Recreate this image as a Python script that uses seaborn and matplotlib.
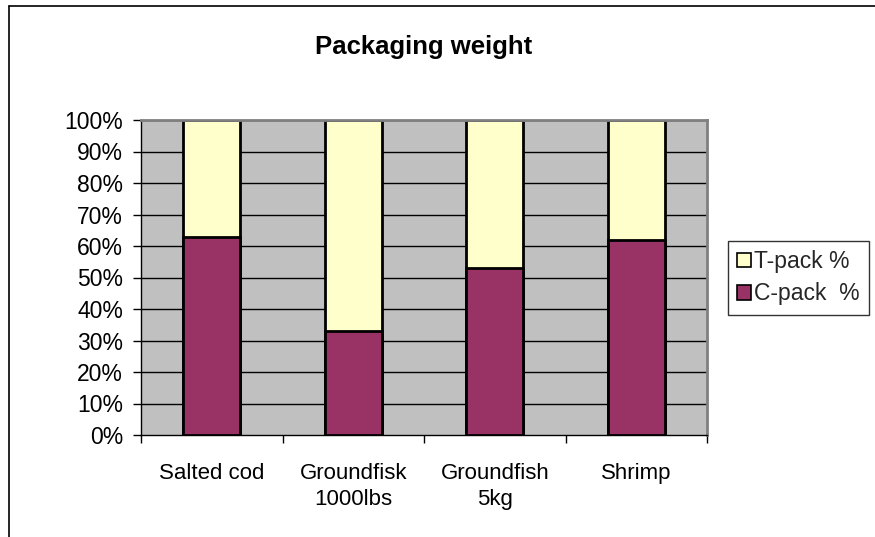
import matplotlib
matplotlib.use("Agg")
import matplotlib.pyplot as plt
from matplotlib.patches import Patch
from matplotlib.lines import Line2D
from matplotlib.ticker import FixedLocator, FuncFormatter
import seaborn as sns
import pandas as pd

# Share of packaging weight per product (percent)
products = ["Salted cod", "Groundfisk\n1000lbs", "Groundfish\n5kg", "Shrimp"]
c_pack = [63, 33, 53, 62]
t_pack = [37, 67, 47, 38]
y_ticks = [0, 10, 20, 30, 40, 50, 60, 70, 80, 90, 100]

c_color = "#993366"
t_color = "#FFFFCC"

sns.set_theme(style="white")
plt.rcParams["font.family"] = ["Liberation Sans", "DejaVu Sans"]

df = pd.DataFrame({
    "product": products,
    "c": c_pack,
    "total": [c + t for c, t in zip(c_pack, t_pack)],
})

fig = plt.figure(figsize=(8.75, 5.37), dpi=100)
ax = fig.add_axes([141 / 875, 1 - 435 / 537, (707 - 141) / 875, (435 - 120) / 537])
ax.set_facecolor("#C0C0C0")

# gridlines behind bars
for v in y_ticks[1:]:
    ax.axhline(v, color="black", lw=1.0, zorder=0.5)

# stacked bars: full height in T-pack colour, C-pack part drawn over it
sns.barplot(data=df, x="product", y="total", color=t_color, width=0.4,
            edgecolor="black", linewidth=2, saturation=1, ax=ax, zorder=2)
sns.barplot(data=df, x="product", y="c", color=c_color, width=0.4,
            edgecolor="black", linewidth=2, saturation=1, ax=ax, zorder=3)

ax.set_xlim(-0.5, len(products) - 0.5)
ax.set_ylim(0, 100)
ax.set_xlabel("")
ax.set_ylabel("")

ax.yaxis.set_major_locator(FixedLocator(y_ticks))
ax.yaxis.set_major_formatter(FuncFormatter(lambda v, p: f"{v:.0f}%"))
ax.tick_params(axis="y", which="major", left=True, length=6, width=1,
               color="black", direction="out", labelsize=16.5, pad=7,
               labelcolor="black")

# category labels at centres, tick marks at category boundaries
ax.set_xticks(range(len(products)))
ax.set_xticklabels(products, fontsize=16, linespacing=1.3)
ax.tick_params(axis="x", which="major", length=0, pad=20, labelcolor="black")
ax.set_xticks([i - 0.5 for i in range(len(products) + 1)], minor=True)
ax.tick_params(axis="x", which="minor", bottom=True, length=6, width=1,
               color="black", direction="out")

for side in ["top", "right"]:
    ax.spines[side].set_visible(True)
    ax.spines[side].set_color("#808080")
    ax.spines[side].set_linewidth(2)
for side in ["left", "bottom"]:
    ax.spines[side].set_visible(True)
    ax.spines[side].set_color("black")
    ax.spines[side].set_linewidth(1)

fig.text(424 / 875, 1 - 47 / 537, "Packaging weight", ha="center", va="center",
         fontsize=18.5, fontweight="bold", color="black")

handles = [
    Patch(facecolor=t_color, edgecolor="black", linewidth=1.2, label="T-pack %"),
    Patch(facecolor=c_color, edgecolor="black", linewidth=1.2, label="C-pack  %"),
]
leg = fig.legend(handles=handles, loc="upper left",
                 bbox_to_anchor=(728 / 875, 1 - 241 / 537),
                 frameon=True, fancybox=False, fontsize=16.5,
                 handlelength=0.6, handleheight=0.6, handletextpad=0.15,
                 borderpad=0.4, labelspacing=0.4, borderaxespad=0)
leg.get_frame().set_edgecolor("black")
leg.get_frame().set_linewidth(1)

# chart area border
fig.add_artist(Line2D([9 / 875, 9 / 875], [0, 1 - 6 / 537], color="black", lw=1.2,
                      transform=fig.transFigure))
fig.add_artist(Line2D([9 / 875, 1], [1 - 6 / 537, 1 - 6 / 537], color="black", lw=1.2,
                      transform=fig.transFigure))

fig.savefig("out.png", dpi=100, facecolor="white")
